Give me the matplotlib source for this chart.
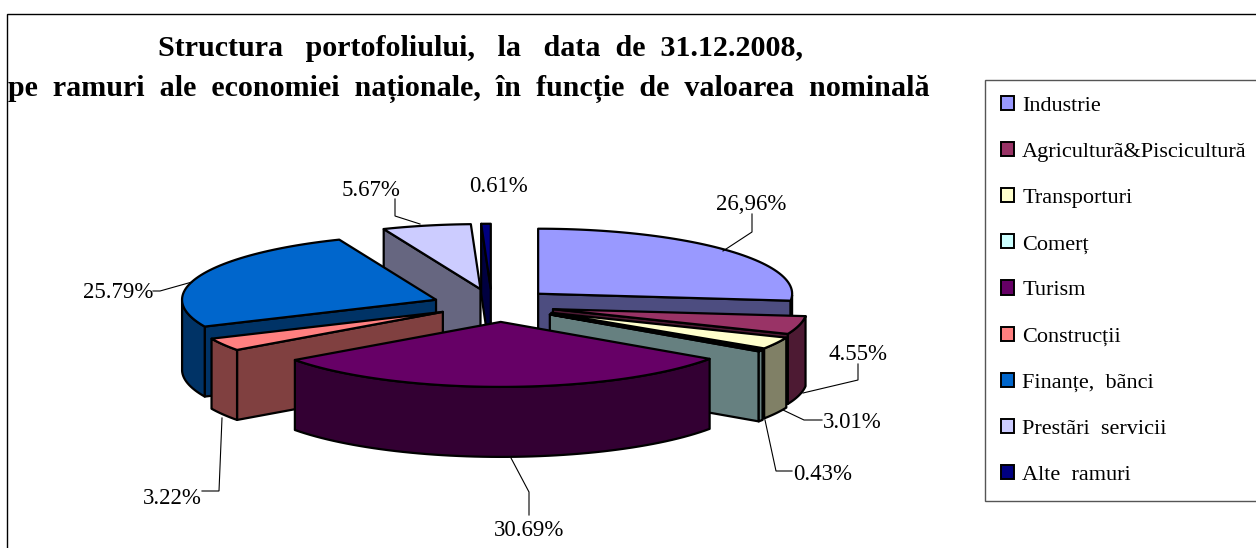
#!/usr/bin/env python3

import numpy as np
import matplotlib
matplotlib.use('Agg')
import matplotlib.pyplot as plt
from matplotlib.patches import Polygon, Rectangle

plt.rcParams['font.family'] = ['Liberation Serif', 'DejaVu Serif']

names = ['Industrie', 'Agriculturã&Piscicultură', 'Transporturi', 'Comerț', 'Turism',
         'Construcții', 'Finanțe,  bãnci', 'Prestãri  servicii', 'Alte  ramuri']
values = [26.96, 4.55, 3.01, 0.43, 30.69, 3.22, 25.79, 5.67, 0.61]
labels = ['26,96%', '4.55%', '3.01%', '0.43%', '30.69%', '3.22%', '25.79%', '5.67%', '0.61%']
colors = ['#9999FF', '#993366', '#FFFFCC', '#CCFFFF', '#660066',
          '#FF8080', '#0066CC', '#CCCCFF', '#000080']
walls = ['#4D4D80', '#4D1A33', '#808066', '#668080', '#330033',
         '#804040', '#003366', '#666680', '#000040']

# pie geometry, in pixels
cx, cy = 489, 305
rx, ry = 254, 65
depth = 70
explode = [0.26, 0.26, 0.26, 0.26, 0.26, 0.21, 0.22, 0.25, 0.25]
nudge = [0, 0, 4, 6, 11, 0, -1, 5, 3]
draw_order = [8, 7, 6, 5, 0, 1, 2, 3, 4]

fig = plt.figure(figsize=(12.56, 5.48), dpi=100)
ax = fig.add_axes([0, 0, 1, 1])
ax.set_xlim(0, 1256)
ax.set_ylim(548, 0)
ax.axis('off')

ax.add_patch(Rectangle((7, 14), 1300, 600, fc='white', ec='black', lw=1))

edges = np.cumsum([0] + values) / sum(values) * 360


def point(t, e):
    a = np.radians(t)
    return cx + e * rx * np.sin(a), cy - e * ry * np.cos(a)


def slice_outline(i):
    t1, t2 = edges[i], edges[i + 1]
    mid = (t1 + t2) / 2
    tx, ty = point(mid, explode[i])
    tx += nudge[i]
    arc = np.linspace(t1, t2, 60)
    a = np.radians(arc)
    return (tx, ty), arc, tx + rx * np.sin(a), ty - ry * np.cos(a)


for i in draw_order:
    (tx, ty), arc, ax_x, ax_y = slice_outline(i)
    t1, t2 = edges[i], edges[i + 1]
    kw = dict(fc=walls[i], ec='black', lw=1.6, joinstyle='round')
    # radial faces that look towards the viewer
    if np.sin(np.radians(t1)) < 0:
        ax.add_patch(Polygon([(tx, ty), (ax_x[0], ax_y[0]), (ax_x[0], ax_y[0] + depth), (tx, ty + depth)], **kw))
    if np.sin(np.radians(t2)) > 0:
        ax.add_patch(Polygon([(tx, ty), (ax_x[-1], ax_y[-1]), (ax_x[-1], ax_y[-1] + depth), (tx, ty + depth)], **kw))
    # rim, only the part on the near side
    front = np.cos(np.radians(arc)) < 0
    if front.sum() > 1:
        xs, ys = ax_x[front], ax_y[front]
        ax.add_patch(Polygon(np.r_[np.c_[xs, ys], np.c_[xs[::-1], ys[::-1] + depth]], **kw))
    ax.add_patch(Polygon(np.r_[[(tx, ty)], np.c_[ax_x, ax_y]], fc=colors[i], ec='black', lw=1.6, joinstyle='round'))

# data labels and their leader lines
label_pos = [(751, 204), (858, 354), (852, 423), (823, 474), (529, 531),
             (172, 498), (118, 293), (371, 190), (498, 187)]
leaders = [[(723, 251), (752, 232), (752, 214)],
           [(803, 393), (858, 380), (858, 364)],
           [(783, 410), (804, 420), (822, 420)],
           [(765, 420), (776, 471), (792, 471)],
           [(511, 458), (529, 492), (529, 515)],
           [(222, 418), (219, 491), (202, 491)],
           [(192, 282), (160, 291), (153, 291)],
           [(420, 224), (395, 216), (395, 199)]]
for path in leaders:
    ax.plot(*zip(*path), color='black', lw=0.8, solid_joinstyle='miter')
for txt, (x, y) in zip(labels, label_pos):
    ax.text(x, y, txt, fontsize=16.5, ha='center', va='center', color='black')

# title
ax.text(158, 49, 'Structura   portofoliului,   la   data  de  31.12.2008,', fontsize=21.6,
        fontweight='bold', ha='left', va='center')
ax.text(8, 89, 'pe  ramuri  ale  economiei  naționale,  în  funcție  de  valoarea  nominală', fontsize=21.6,
        fontweight='bold', ha='left', va='center')

# legend
handles = [Rectangle((0, 0), 1, 1, fc=c, ec='black', lw=1.4) for c in colors]
leg = ax.legend(handles, names, loc='upper left', bbox_to_anchor=(985, 80),
                bbox_transform=ax.transData, fontsize=16, frameon=True, fancybox=False,
                edgecolor='#555555', facecolor='white', framealpha=1,
                handlelength=0.6, handleheight=0.6, handletextpad=0.35,
                labelspacing=1.18, borderpad=0.72, borderaxespad=0)
leg.get_frame().set_linewidth(1)

fig.savefig('out.png', dpi=100)
